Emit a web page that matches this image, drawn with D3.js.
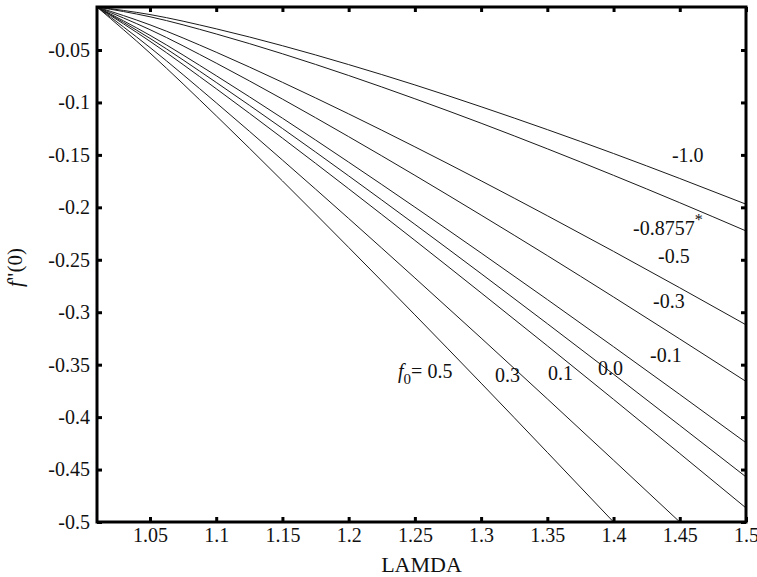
<!DOCTYPE html>
<html>
<head>
<meta charset="utf-8">
<script src="https://cdn.jsdelivr.net/npm/d3@7"></script>
<style>
  body { margin: 0; background: #fff; }
  text { font-family: "Liberation Serif", "Times New Roman", serif; fill: #111; }
</style>
</head>
<body>
<svg id="chart" width="757" height="577"></svg>
<script>
const lamda = [1.01, 1.05, 1.10, 1.15, 1.20, 1.25, 1.30, 1.35, 1.40, 1.45, 1.50];

// f''(0) for each f0 (null = curve already left the plot)
const fppMinus10 = [-0.009, -0.0162, -0.0298, -0.0459, -0.0639, -0.0833, -0.1041, -0.1259, -0.1487, -0.1725, -0.197];
const fppMinus08757 = [-0.009, -0.0183, -0.0347, -0.0536, -0.0743, -0.0965, -0.1198, -0.1442, -0.1695, -0.1956, -0.2225];
const fppMinus05 = [-0.009, -0.026, -0.0521, -0.0808, -0.1109, -0.1423, -0.1747, -0.208, -0.242, -0.2767, -0.312];
const fppMinus03 = [-0.009, -0.0306, -0.0625, -0.0968, -0.1326, -0.1695, -0.2074, -0.246, -0.2855, -0.3255, -0.366];
const fppMinus01 = [-0.009, -0.036, -0.0745, -0.115, -0.1569, -0.1998, -0.2435, -0.2879, -0.3329, -0.3784, -0.4244];
const fpp00 = [-0.009, -0.0389, -0.0809, -0.1248, -0.17, -0.2162, -0.2632, -0.3109, -0.3591, -0.4079, -0.457];
const fpp01 = [-0.009, -0.0417, -0.0869, -0.134, -0.1823, -0.2315, -0.2815, -0.332, -0.3831, -0.4347, -0.4866];
const fpp03 = [-0.009, -0.0476, -0.1003, -0.1549, -0.2106, -0.2673, -0.3246, -0.3826, -0.4411, -0.5, -0.5594];
const fpp05 = [-0.009, -0.0529, -0.1127, -0.1748, -0.2382, -0.3025, -0.3676, -0.4336, -0.5, -0.5669, null];

const allSeries = [fppMinus10, fppMinus08757, fppMinus05, fppMinus03, fppMinus01, fpp00, fpp01, fpp03, fpp05];

// tick values and their labels
const xTicks = [1.05, 1.1, 1.15, 1.2, 1.25, 1.3, 1.35, 1.4, 1.45, 1.5];
const xTickLabels = ['1.05', '1.1', '1.15', '1.2', '1.25', '1.3', '1.35', '1.4', '1.45', '1.5'];
const yTicks = [-0.05, -0.1, -0.15, -0.2, -0.25, -0.3, -0.35, -0.4, -0.45, -0.5];
const yTickLabels = ['-0.05', '-0.1', '-0.15', '-0.2', '-0.25', '-0.3', '-0.35', '-0.4', '-0.45', '-0.5'];

// curve labels, placed in data coordinates (LAMDA, f''(0)) at the start of the text baseline
const curveLabels = ['-1.0', '-0.8757', '-0.5', '-0.3', '-0.1', '0.0', '0.1', '0.3', '0.5'];
const labelLamda = [1.4441, 1.4147, 1.4336, 1.4298, 1.4275, 1.3883, 1.3505, 1.3105, 1.2373];
const labelFpp = [-0.1568, -0.2264, -0.2531, -0.296, -0.3475, -0.3598, -0.3646, -0.3665, -0.3627];

const margin = { left: 97, top: 7, right: 11, bottom: 55 };
const width = 757, height = 577;

const svg = d3.select('#chart');

const x = d3.scaleLinear().domain([1.01, 1.5]).range([margin.left, width - margin.right]);
const y = d3.scaleLinear().domain([-0.5, -0.009]).range([height - margin.bottom, margin.top]);

svg.append('defs').append('clipPath').attr('id', 'plotClip')
    .append('rect')
    .attr('x', x(1.01)).attr('y', y(-0.009))
    .attr('width', x(1.5) - x(1.01)).attr('height', y(-0.5) - y(-0.009));

const line = d3.line()
    .defined((d) => d[1] !== null)
    .x((d) => x(d[0]))
    .y((d) => y(d[1]))
    .curve(d3.curveMonotoneX);

const curves = svg.append('g').attr('clip-path', 'url(#plotClip)');
allSeries.forEach((series) => {
    curves.append('path')
        .attr('d', line(lamda.map((l, i) => [l, series[i]])))
        .attr('fill', 'none')
        .attr('stroke', '#1a1a1a')
        .attr('stroke-width', 1);
});

// axes: ticks point inward on all four sides
function styleAxis(g) {
    g.select('.domain').remove();
    g.selectAll('.tick line').attr('stroke', '#000').attr('stroke-width', 3);
    g.selectAll('.tick text').attr('font-size', 20).attr('fill', '#111')
        .attr('font-family', '"Liberation Serif", "Times New Roman", serif');
}

svg.append('g')
    .attr('transform', `translate(0,${y(-0.5)})`)
    .call(d3.axisBottom(x).tickValues(xTicks).tickSize(-5).tickPadding(6)
        .tickFormat((d, i) => xTickLabels[i]))
    .call(styleAxis);

svg.append('g')
    .attr('transform', `translate(0,${y(-0.009)})`)
    .call(d3.axisTop(x).tickValues(xTicks).tickSize(-5).tickFormat(''))
    .call(styleAxis);

svg.append('g')
    .attr('transform', `translate(${x(1.01)},0)`)
    .call(d3.axisLeft(y).tickValues(yTicks).tickSize(-5).tickPadding(7)
        .tickFormat((d, i) => yTickLabels[i]))
    .call(styleAxis);

svg.append('g')
    .attr('transform', `translate(${x(1.5)},0)`)
    .call(d3.axisRight(y).tickValues(yTicks).tickSize(-5).tickFormat(''))
    .call(styleAxis);

svg.append('rect')
    .attr('x', x(1.01)).attr('y', y(-0.009))
    .attr('width', x(1.5) - x(1.01)).attr('height', y(-0.5) - y(-0.009))
    .attr('fill', 'none').attr('stroke', '#000').attr('stroke-width', 3);

// curve labels
curveLabels.forEach((label, i) => {
    const t = svg.append('text')
        .attr('x', x(labelLamda[i]))
        .attr('y', y(labelFpp[i]))
        .attr('font-size', 20);
    if (label === '0.5') {
        t.append('tspan').attr('font-style', 'italic').text('f');
        t.append('tspan').attr('font-size', 15).attr('dy', 6).text('0');
        t.append('tspan').attr('dy', -6).text('= 0.5');
    } else if (label === '-0.8757') {
        t.text(label);
        t.append('tspan').attr('font-size', 16).attr('dy', -10).text('*');
    } else {
        t.text(label);
    }
});

// axis titles
svg.append('text')
    .attr('x', (x(1.01) + x(1.5)) / 2)
    .attr('y', 572)
    .attr('text-anchor', 'middle')
    .attr('font-size', 22)
    .text('LAMDA');

const yTitle = svg.append('text')
    .attr('transform', `translate(22,${(y(-0.009) + y(-0.5)) / 2 + 3}) rotate(-90)`)
    .attr('text-anchor', 'middle')
    .attr('font-size', 21);
yTitle.append('tspan').attr('font-style', 'italic').text('f');
yTitle.append('tspan').text('"(0)');
</script>
</body>
</html>
